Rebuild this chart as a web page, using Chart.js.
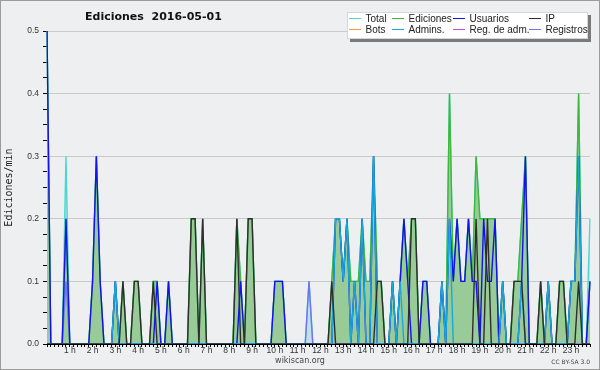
<!DOCTYPE html>
<html>
<head>
<meta charset="utf-8">
<script src="https://cdn.jsdelivr.net/npm/chart.js@4.4.1/dist/chart.umd.min.js"></script>
<style>
html, body { margin: 0; padding: 0; background: #eeeff1; }
</style>
</head>
<body>
<canvas id="chart" width="600" height="370"></canvas>
<script>
// 10-minute buckets, values in edits per minute
const times = [];
for (let h = 0; h < 24; h++) {
    for (let m = 0; m < 60; m += 10) {
        times.push(String(h).padStart(2, '0') + ':' + String(m).padStart(2, '0'));
    }
}

const hourLabels = ['0 h', '1 h', '2 h', '3 h', '4 h', '5 h', '6 h', '7 h', '8 h', '9 h', '10 h', '11 h',
    '12 h', '13 h', '14 h', '15 h', '16 h', '17 h', '18 h', '19 h', '20 h', '21 h', '22 h', '23 h'];

const total = [
    .5, 0, 0, 0, 0, .3,
    0, 0, 0, 0, 0, 0,
    .1, .3, .1, 0, 0, 0,
    .1, 0, .1, 0, 0, .1,
    .1, 0, 0, 0, .1, .1,
    0, 0, .1, 0, 0, 0,
    0, 0, .2, .2, 0, .2,
    0, 0, 0, 0, 0, 0,
    0, 0, .2, .1, 0, .2,
    .2, 0, 0, 0, 0, 0,
    .1, .1, .1, 0, 0, 0,
    0, 0, 0, .1, 0, 0,
    0, 0, 0, .1, .2, .2,
    .1, .2, .1, .1, .1, .2,
    .1, .1, .3, .1, .1, 0,
    0, .1, 0, .1, .2, .1,
    .2, .2, 0, .1, .1, 0,
    0, 0, .1, 0, .4, .1,
    .2, .1, .1, .2, .1, .3,
    .2, .2, .2, .2, .2, 0,
    .1, 0, 0, .1, .1, .2,
    .3, 0, 0, 0, .1, 0,
    .1, 0, 0, .1, .1, 0,
    .1, .1, .4, 0, 0, .2
];

const ediciones = [
    .5, 0, 0, 0, 0, .2,
    0, 0, 0, 0, 0, 0,
    .1, .3, .1, 0, 0, 0,
    .1, 0, .1, 0, 0, .1,
    .1, 0, 0, 0, .1, .1,
    0, 0, .1, 0, 0, 0,
    0, 0, .2, .2, 0, .2,
    0, 0, 0, 0, 0, 0,
    0, 0, .2, .1, 0, .2,
    .2, 0, 0, 0, 0, 0,
    .1, .1, .1, 0, 0, 0,
    0, 0, 0, 0, 0, 0,
    0, 0, 0, .1, .2, .2,
    .1, .2, .1, .1, .1, .2,
    .1, .1, .3, .1, .1, 0,
    0, .1, 0, .1, .2, .1,
    .2, .2, 0, .1, .1, 0,
    0, 0, .1, 0, .4, .1,
    .2, .1, .1, .2, .1, .3,
    .2, .2, .2, .2, .2, 0,
    .1, 0, 0, .1, .1, .2,
    .3, 0, 0, 0, .1, 0,
    .1, 0, 0, .1, .1, 0,
    .1, .1, .4, 0, 0, .1
];

const usuarios = [
    .5, 0, 0, 0, 0, .2,
    0, 0, 0, 0, 0, 0,
    .1, .3, .1, 0, 0, 0,
    .1, 0, 0, 0, 0, 0,
    0, 0, 0, 0, 0, .1,
    0, 0, .1, 0, 0, 0,
    0, 0, 0, 0, 0, 0,
    0, 0, 0, 0, 0, 0,
    0, 0, 0, .1, 0, 0,
    0, 0, 0, 0, 0, 0,
    .1, .1, .1, 0, 0, 0,
    0, 0, 0, 0, 0, 0,
    0, 0, 0, 0, .2, .2,
    .1, .2, 0, .1, 0, .2,
    0, 0, .3, 0, 0, 0,
    0, .1, 0, .1, .2, .1,
    0, 0, 0, .1, .1, 0,
    0, 0, .1, 0, .2, .1,
    .2, .1, .1, .2, .1, .1,
    0, .2, .1, .1, .2, 0,
    .1, 0, 0, 0, 0, .1,
    .3, 0, 0, 0, 0, 0,
    .1, 0, 0, 0, 0, 0,
    .1, .1, .3, 0, 0, .1
];

const ip = [
    0, 0, 0, 0, 0, 0,
    0, 0, 0, 0, 0, 0,
    0, 0, 0, 0, 0, 0,
    0, 0, .1, 0, 0, .1,
    .1, 0, 0, 0, .1, 0,
    0, 0, 0, 0, 0, 0,
    0, 0, .2, .2, 0, .2,
    0, 0, 0, 0, 0, 0,
    0, 0, .2, 0, 0, .2,
    .2, 0, 0, 0, 0, 0,
    0, 0, 0, 0, 0, 0,
    0, 0, 0, 0, 0, 0,
    0, 0, 0, .1, 0, 0,
    0, 0, 0, 0, 0, 0,
    0, 0, 0, .1, .1, 0,
    0, 0, 0, 0, 0, 0,
    .2, .2, 0, 0, 0, 0,
    0, 0, 0, 0, 0, 0,
    0, 0, 0, 0, 0, .2,
    0, 0, .2, 0, 0, 0,
    0, 0, 0, .1, .1, .1,
    0, 0, 0, 0, .1, 0,
    0, 0, 0, .1, .1, 0,
    0, 0, .1, 0, 0, 0
];

const admins = [
    0, 0, 0, 0, 0, 0,
    0, 0, 0, 0, 0, 0,
    0, 0, 0, 0, 0, 0,
    .1, 0, 0, 0, 0, 0,
    0, 0, 0, 0, 0, 0,
    0, 0, 0, 0, 0, 0,
    0, 0, 0, 0, 0, 0,
    0, 0, 0, 0, 0, 0,
    0, 0, 0, 0, 0, 0,
    0, 0, 0, 0, 0, 0,
    0, 0, 0, 0, 0, 0,
    0, 0, 0, 0, 0, 0,
    0, 0, 0, 0, .2, .2,
    .1, .2, 0, .1, 0, .2,
    0, 0, .3, 0, 0, 0,
    0, .1, 0, .1, 0, 0,
    0, 0, 0, 0, 0, 0,
    0, 0, .1, 0, .2, 0,
    0, 0, 0, 0, 0, 0,
    0, 0, 0, 0, 0, 0,
    .1, 0, 0, 0, 0, .1,
    0, 0, 0, 0, 0, 0,
    .1, 0, 0, 0, 0, 0,
    .1, .1, .3, 0, 0, 0
];

const registros = [
    0, 0, 0, 0, 0, .1,
    0, 0, 0, 0, 0, 0,
    0, 0, 0, 0, 0, 0,
    0, 0, 0, 0, 0, 0,
    0, 0, 0, 0, 0, 0,
    0, 0, 0, 0, 0, 0,
    0, 0, 0, 0, 0, 0,
    0, 0, 0, 0, 0, 0,
    0, 0, 0, 0, 0, 0,
    0, 0, 0, 0, 0, 0,
    0, 0, 0, 0, 0, 0,
    0, 0, 0, .1, 0, 0,
    0, 0, 0, 0, 0, 0,
    0, 0, 0, 0, 0, 0,
    0, 0, 0, 0, 0, 0,
    0, 0, 0, 0, 0, 0,
    0, 0, 0, 0, 0, 0,
    0, 0, 0, 0, 0, 0,
    0, 0, 0, 0, 0, 0,
    0, 0, 0, 0, 0, 0,
    0, 0, 0, 0, 0, 0,
    0, 0, 0, 0, 0, 0,
    0, 0, 0, 0, 0, 0,
    0, 0, 0, 0, 0, .1
];

// no bot edits and no admin log entries that day
const bots = [];
const regAdm = [];

const chartTitle = 'Ediciones  2016-05-01';
const footer = 'wikiscan.org';
const licence = 'CC BY-SA 3.0';

function isTenth(v) {
    return Math.abs(v * 10 - Math.round(v * 10)) < 1e-6;
}

const decor = {
    id: 'decor',
    beforeDraw(chart) {
        const ctx = chart.ctx;
        ctx.save();
        ctx.fillStyle = '#eeeff1';
        ctx.fillRect(0, 0, chart.width, chart.height);
        ctx.restore();
    },
    afterDraw(chart) {
        const ctx = chart.ctx;
        ctx.save();

        ctx.strokeStyle = '#9c9c9c';
        ctx.lineWidth = 1;
        ctx.strokeRect(0.5, 0.5, chart.width - 1, chart.height - 1);

        ctx.fillStyle = '#111';
        ctx.font = 'bold 11px "DejaVu Sans"';
        ctx.textAlign = 'left';
        ctx.textBaseline = 'middle';
        ctx.fillText(chartTitle, 85, 17);

        // legend box with its shadow
        ctx.fillStyle = '#7a7a7a';
        ctx.fillRect(350, 15, 241, 27);
        ctx.fillStyle = '#ffffff';
        ctx.fillRect(347, 12, 241, 27);
        ctx.strokeStyle = '#d6d6d6';
        ctx.strokeRect(347.5, 12.5, 240, 26);

        const cols = [349, 392, 453, 529];
        const rows = [18, 29];
        ctx.font = '10px "Liberation Sans"';
        chart.data.datasets.forEach(function(ds, i) {
            const cx = cols[i % 4];
            const cy = rows[Math.floor(i / 4)];
            ctx.strokeStyle = ds.borderColor;
            ctx.beginPath();
            ctx.moveTo(cx, cy + 0.5);
            ctx.lineTo(cx + 12, cy + 0.5);
            ctx.stroke();
            ctx.fillStyle = '#222';
            ctx.fillText(ds.label, cx + 16.5, cy + 1);
        });

        ctx.fillStyle = '#444';
        ctx.font = '8px "DejaVu Sans"';
        ctx.textAlign = 'center';
        ctx.fillText(footer, 300, 361);
        ctx.font = '6px "DejaVu Sans"';
        ctx.textAlign = 'right';
        ctx.fillText(licence, 590, 362);

        ctx.restore();
    }
};

var chart = new Chart(document.getElementById('chart'), {
    type: 'line',
    data: {
        labels: times,
        datasets: [
            { label: 'Total', data: total, borderColor: '#48d8d0', backgroundColor: '#c3dfe8', fill: 'origin', order: 8 },
            { label: 'Ediciones', data: ediciones, borderColor: '#3cb83c', backgroundColor: '#98cb98', fill: 'origin', order: 7 },
            { label: 'Usuarios', data: usuarios, borderColor: '#1212ee', fill: false, order: 3 },
            { label: 'IP', data: ip, borderColor: '#2e2e2e', fill: false, order: 1 },
            { label: 'Bots', data: bots, borderColor: '#f5a03c', fill: false, order: 4 },
            { label: 'Admins.', data: admins, borderColor: '#1aa8dc', fill: false, order: 2 },
            { label: 'Reg. de adm.', data: regAdm, borderColor: '#d048d8', fill: false, order: 5 },
            { label: 'Registros', data: registros, borderColor: '#7272f4', fill: false, order: 6 }
        ]
    },
    options: {
        responsive: false,
        animation: false,
        layout: { padding: { left: 0, right: 10, top: 31, bottom: 0 } },
        elements: {
            point: { radius: 0 },
            line: { borderWidth: 1.4, tension: 0 }
        },
        plugins: {
            legend: { display: false },
            tooltip: { enabled: false }
        },
        scales: {
            x: {
                z: 1,
                offset: false,
                grid: { drawOnChartArea: false, tickLength: 3, tickColor: '#000' },
                border: { color: '#000', width: 1 },
                ticks: {
                    autoSkip: false,
                    maxRotation: 0,
                    minRotation: 0,
                    padding: -1,
                    color: '#333',
                    font: { family: 'Liberation Sans', size: 8.5 },
                    callback: function(v, i) {
                        return (i > 0 && i % 6 === 0) ? hourLabels[i / 6] : '';
                    }
                },
                afterFit: function(s) { s.height = 26; }
            },
            y: {
                min: 0,
                max: 0.5,
                grid: {
                    color: function(c) {
                        return (c.tick && c.tick.value > 0 && isTenth(c.tick.value)) ? '#c9c9c9' : 'rgba(0,0,0,0)';
                    },
                    tickColor: '#000',
                    tickLength: 4
                },
                border: { color: '#000', width: 1 },
                ticks: {
                    stepSize: 0.025,
                    autoSkip: false,
                    padding: 4,
                    color: '#333',
                    font: { family: 'Liberation Sans', size: 8.5 },
                    callback: function(v) {
                        return isTenth(v) ? v.toFixed(1) : '';
                    }
                },
                title: {
                    display: true,
                    text: 'Ediciones/min',
                    color: '#222',
                    font: { family: 'DejaVu Sans Mono', size: 10 },
                    padding: { top: 3.5, bottom: 0 }
                },
                afterFit: function(s) { s.width = 47; }
            }
        }
    },
    plugins: [decor]
});
</script>
</body>
</html>
